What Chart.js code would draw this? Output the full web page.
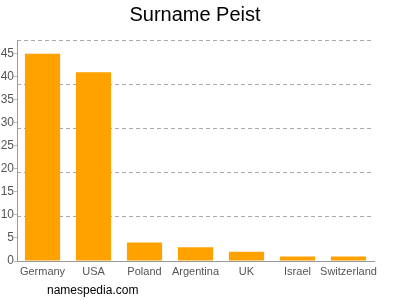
<!DOCTYPE html>
<html>
<head>
<meta charset="utf-8">
<script src="https://cdn.jsdelivr.net/npm/chart.js@4/dist/chart.umd.min.js"></script>
<style>
  html, body { margin: 0; padding: 0; background: #fff; }
  #wrap { width: 400px; height: 300px; }
</style>
</head>
<body>
<div id="wrap"><canvas id="my-chart"></canvas></div>
<script>
const countries = ['Germany', 'USA', 'Poland', 'Argentina', 'UK', 'Israel', 'Switzerland'];
const counts = [45, 41, 4, 3, 2, 1, 1];
const yTicks = [0, 5, 10, 15, 20, 25, 30, 35, 40, 45];

// watermark under the chart
const watermark = {
    id: 'watermark',
    afterDraw(chart) {
        const c = chart.ctx;
        c.save();
        c.font = '12px "Liberation Sans", Arial, sans-serif';
        c.fillStyle = '#000';
        c.textBaseline = 'middle';
        c.fillText('namespedia.com', 47, 291);
        c.restore();
    }
};

document.addEventListener('DOMContentLoaded', () => {
    const ctx = document.getElementById('my-chart').getContext('2d');
    new Chart(ctx, {
        type: 'bar',
        data: {
            labels: countries,
            datasets: [{
                label: 'Peist',
                data: counts,
                backgroundColor: '#ffa200',
                borderWidth: 0,
                barPercentage: 0.69,
                categoryPercentage: 1
            }]
        },
        options: {
            responsive: true,
            maintainAspectRatio: false,
            animation: false,
            layout: {
                padding: { left: 0, right: 10, top: 0, bottom: 0 }
            },
            scales: {
                x: {
                    grid: { display: false, drawTicks: false },
                    border: { display: true, color: '#999' },
                    ticks: {
                        color: '#555',
                        font: { family: '"Liberation Sans", Arial, sans-serif', size: 11 },
                        padding: 4,
                        maxRotation: 0,
                        autoSkip: false
                    },
                    afterFit: (axis) => { axis.height = 39; }
                },
                y: {
                    min: 0,
                    max: 48,
                    afterBuildTicks: (axis) => { axis.ticks = yTicks.map(v => ({ value: v })); },
                    grid: {
                        drawOnChartArea: false,
                        drawTicks: true,
                        tickLength: 3,
                        tickColor: '#bbb'
                    },
                    border: { display: true, color: '#999' },
                    ticks: {
                        color: '#555',
                        font: { family: '"Liberation Sans", Arial, sans-serif', size: 12 },
                        padding: 0
                    },
                    afterFit: (axis) => { axis.width = 17; }
                },
                y2: {
                    position: 'right',
                    min: 0,
                    max: 50,
                    ticks: { display: false, stepSize: 10 },
                    grid: {
                        color: (c) => c.tick.value === 0 ? 'rgba(0,0,0,0)' : '#aaa',
                        drawTicks: false,
                        lineWidth: 1
                    },
                    border: { display: false, dash: [4, 3] },
                    afterFit: (axis) => { axis.width = 16; }
                }
            },
            plugins: {
                legend: { display: false },
                tooltip: { enabled: false },
                title: {
                    display: true,
                    text: 'Surname Peist',
                    color: '#000',
                    font: { family: '"Liberation Sans", Arial, sans-serif', size: 20, weight: 'normal' },
                    padding: { top: 3, bottom: 13 }
                }
            }
        },
        plugins: [watermark]
    });
});
</script>
</body>
</html>
